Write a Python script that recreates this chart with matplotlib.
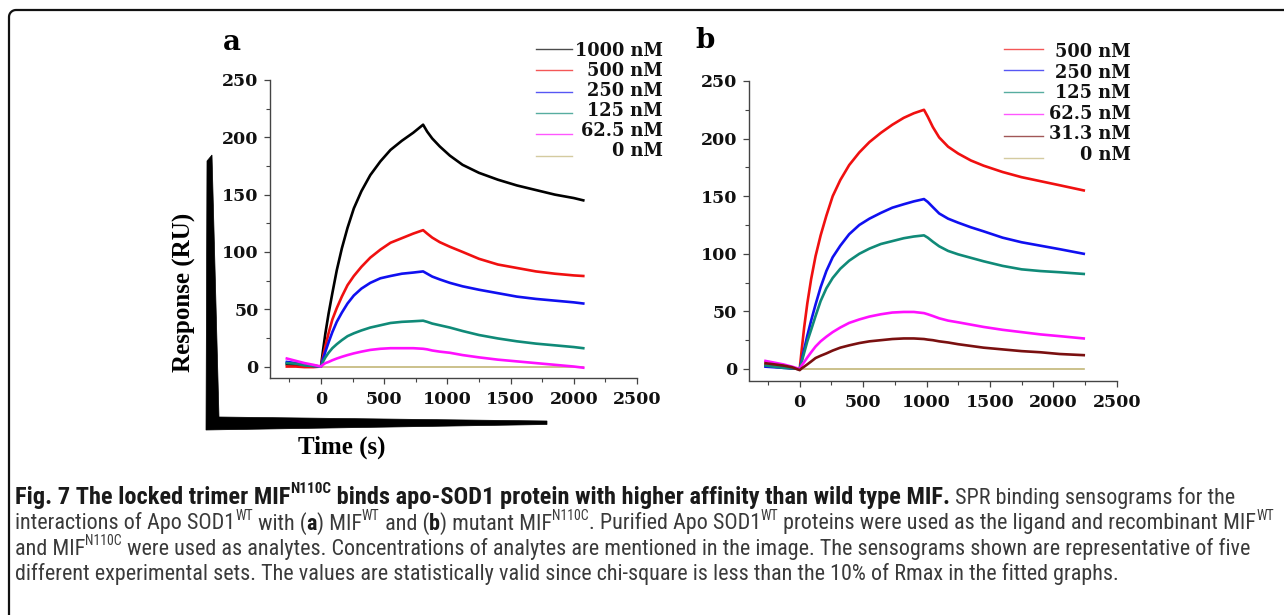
import numpy as np
import matplotlib
matplotlib.use("Agg")
import matplotlib.pyplot as plt
from matplotlib import font_manager
from matplotlib.patches import Polygon
from matplotlib.lines import Line2D
from matplotlib.ticker import MultipleLocator

# ---------------- data ----------------
a_time = [-270, -200, -130, -60, 0, 15, 35, 60, 90, 125, 165, 210, 260, 320, 390, 470, 550, 640, 730, 808,
          840, 880, 940, 1020, 1120, 1250, 1400, 1550, 1700, 1850, 2000, 2075]
a_1000 = [2, 1.5, 1, 0.5, 0, 13, 29, 46, 64, 84, 103, 121, 138, 153, 167, 179, 189, 197, 204, 211,
          205, 199, 192, 184, 176, 169, 163, 158, 154, 150, 147, 145]
a_500 = [0, 0, -0.5, -0.5, 0, 8, 18, 29, 41, 51, 61, 71, 79, 87, 95, 102, 108, 112, 116, 119,
         116, 112.5, 108.5, 104.5, 100, 94, 89, 86, 83, 81, 79.5, 79]
a_250 = [4, 3, 1.5, 0.5, 0, 6, 13, 21, 30, 39, 47, 55, 62, 68, 73, 77, 79, 81, 82, 83,
         81, 78.5, 76, 73, 70, 67, 64, 61, 59, 57.5, 56, 55]
a_125 = [3, 2.5, 1, 0.5, 0, 4, 8, 12, 16, 19.5, 23, 26.5, 29, 31.5, 34, 36, 38, 39, 39.5, 40,
         39, 37.5, 36, 34, 31, 27.5, 24.5, 22, 20, 18.5, 17, 16]
a_62 = [7, 5, 3, 1.5, 0, 1.5, 3, 4, 5.5, 7, 8.5, 10, 11.5, 13, 14.5, 15.5, 16, 16, 16, 15.5,
        15, 14, 13, 12, 10, 8, 6, 4.5, 3, 1.5, 0, -1]
a_zero_time = [0, 2075]
a_zero = [0, 0]
a_labels = ["1000 nM", "500 nM", "250 nM", "125 nM", "62.5 nM", "0 nM"]

b_time = [-270, -200, -130, -60, 0, 15, 35, 60, 90, 125, 165, 210, 260, 320, 390, 470, 550, 640, 730, 820,
          900, 980, 1010, 1050, 1100, 1170, 1250, 1350, 1450, 1600, 1750, 1900, 2050, 2240]
b_500 = [3, 2, 1.5, 0.5, 0, 16, 36, 57, 78, 98, 116, 133, 150, 164, 177, 188, 197, 205, 212, 218,
         222, 225, 219, 210, 201, 193, 187, 181, 176.5, 171, 166.5, 163, 159.5, 155]
b_250 = [2, 1.5, 1, 0.5, 0, 7, 17, 29, 42, 56, 71, 85, 97, 107, 117, 125, 130.5, 135.5, 140, 143,
         145.5, 147.5, 145, 140.5, 135, 130.5, 127, 123, 119.5, 114, 110, 107, 104, 100]
b_125 = [3, 2, 1, 0.5, 0, 6, 14, 24, 34, 46, 59, 70, 79, 87, 94, 100, 104.5, 108.5, 111, 113.5,
         115, 116, 114, 110.5, 106.5, 102.5, 99.5, 96.5, 93.5, 89.5, 86.5, 85, 84, 82.5]
b_62 = [7, 5.5, 4, 2, 0, 3, 6, 10, 14.5, 19.5, 24, 28, 32, 36, 40, 43, 45.5, 47.5, 49, 49.5,
        49.5, 48.5, 47.5, 46, 44, 42, 40.5, 38.5, 36.5, 34, 32, 30, 28.5, 26.5]
b_31 = [5, 4, 3, 1.5, -1, 0.5, 2, 4, 6.5, 9.5, 11.5, 13.5, 16, 18.5, 20.5, 22.5, 24, 25, 26, 26.5,
        26.5, 26, 25.5, 25, 24, 23, 21.5, 20, 18.5, 17, 15.5, 14.5, 13, 12]
b_zero_time = [0, 2240]
b_zero = [0, 0]
b_labels = ["500 nM", "250 nM", "125 nM", "62.5 nM", "31.3 nM", "0 nM"]

x_ticks = [0, 500, 1000, 1500, 2000, 2500]
y_ticks = [0, 50, 100, 150, 200, 250]

# ---------------- styles ----------------
C_BLACK, C_RED, C_BLUE = "#000000", "#f01010", "#1010f0"
C_TEAL, C_MAG, C_DRED, C_OLIVE = "#108a78", "#ff10ff", "#7a1010", "#c2b678"

W, H = 1284, 615
fig = plt.figure(figsize=(W / 100, H / 100), dpi=100)
fig.patch.set_facecolor("white")


def fx(x):
    return x / W


def fy(y):
    return 1 - y / H


TICK_FONT = dict(family="DejaVu Serif", weight="bold", size=12.5)
TITLE_FONT = dict(family="Liberation Serif", weight="bold", size=18)


def style_axes(ax):
    ax.set_xlim(-400, 2500)
    ax.set_ylim(-10, 250)
    for s in ("top", "right"):
        ax.spines[s].set_visible(False)
    for s in ("left", "bottom"):
        ax.spines[s].set_color("#444444")
        ax.spines[s].set_linewidth(1.0)
    ax.set_xticks(x_ticks)
    ax.set_yticks(y_ticks)
    ax.xaxis.set_minor_locator(MultipleLocator(250))
    ax.yaxis.set_minor_locator(MultipleLocator(25))
    ax.tick_params(which="major", direction="out", length=4, width=0.9, color="#444444")
    ax.tick_params(which="minor", direction="out", length=3, width=0.8, color="#444444")
    ax.tick_params(axis="x", which="major", pad=5.5)
    ax.tick_params(axis="y", which="major", pad=4.5)
    for lab in ax.get_xticklabels() + ax.get_yticklabels():
        lab.set_fontfamily(TICK_FONT["family"])
        lab.set_fontweight("bold")
        lab.set_fontsize(TICK_FONT["size"])
        lab.set_color("#111111")
    ax.set_facecolor("none")


# ---------------- panel a ----------------
ax_a = fig.add_axes([fx(270.4), fy(378), (637 - 270.4) / W, (378 - 80) / H])
style_axes(ax_a)
a_series = [(a_1000, C_BLACK), (a_500, C_RED), (a_250, C_BLUE), (a_125, C_TEAL), (a_62, C_MAG)]
ax_a.plot(a_zero_time, a_zero, color=C_OLIVE, lw=1.2, zorder=1)
for vals, col in a_series:
    ax_a.plot(a_time, vals, color=col, lw=1.9, zorder=2, solid_joinstyle="round")

# ---------------- panel b ----------------
ax_b = fig.add_axes([fx(749), fy(380.5), (1116.7 - 749) / W, (380.5 - 81) / H])
style_axes(ax_b)
b_series = [(b_500, C_RED), (b_250, C_BLUE), (b_125, C_TEAL), (b_62, C_MAG), (b_31, C_DRED)]
ax_b.plot(b_zero_time, b_zero, color=C_OLIVE, lw=1.2, zorder=1)
for vals, col in b_series:
    ax_b.plot(b_time, vals, color=col, lw=1.9, zorder=2, solid_joinstyle="round")

# ---------------- legends ----------------
a_cols = [C_BLACK, C_RED, C_BLUE, C_TEAL, C_MAG, C_OLIVE]
b_cols = [C_RED, C_BLUE, C_TEAL, C_MAG, C_DRED, C_OLIVE]


def draw_legend(labels, cols, x0, x1, y_line0, dy_line, x_text, y_text0, dy_text):
    for i, (lab, col) in enumerate(zip(labels, cols)):
        yl = y_line0 + i * dy_line
        fig.add_artist(Line2D([fx(x0), fx(x1)], [fy(yl), fy(yl)], color=col, lw=1.0, alpha=0.7,
                              transform=fig.transFigure))
        fig.text(fx(x_text), fy(y_text0 + i * dy_text), lab, ha="right", va="center",
                 family="DejaVu Serif", weight="bold", size=12.8, color="#111111")


draw_legend(a_labels, a_cols, 536, 572, 49, 21.3, 663, 50.5, 20)
draw_legend(b_labels, b_cols, 1004, 1043, 48.5, 21.9, 1131, 52, 20.6)

# ---------------- panel letters & axis titles ----------------
fig.text(fx(232), fy(43), "a", ha="center", va="center", family="DejaVu Serif", weight="bold", size=20)
fig.text(fx(705), fy(41), "b", ha="center", va="center", family="DejaVu Serif", weight="bold", size=20)
fig.text(fx(184), fy(292), "Response (RU)", rotation=90, ha="center", va="center", **TITLE_FONT)
fig.text(fx(342), fy(447), "Time (s)", ha="center", va="center", **TITLE_FONT)

# tapered "L" axis decoration
wedge = [(206, 430), (207, 161), (212, 155), (219, 417), (547, 421), (547, 424.5)]
fig.add_artist(Polygon([(fx(x), fy(y)) for x, y in wedge], closed=True, facecolor="black",
                       edgecolor="black", lw=0.5, transform=fig.transFigure))

# frame (top + left edge with rounded corner)
r = 7
ang = np.linspace(np.pi / 2, np.pi, 12)
fx_pts = [W] + list(9 + r + r * np.cos(ang)) + [9]
fy_pts = [10] + list(10 + r - r * np.sin(ang)) + [H]
fig.add_artist(Line2D([fx(v) for v in fx_pts], [fy(v) for v in fy_pts], color="#111111", lw=1.6,
                      transform=fig.transFigure, solid_capstyle="butt"))

# ---------------- caption ----------------
avail = {f.name for f in font_manager.fontManager.ttflist}
cap_family = next((f for f in ["Liberation Sans Narrow", "Roboto Condensed", "Open Sans Condensed",
                               "Noto Sans", "Liberation Sans"] if f in avail), "DejaVu Sans")

renderer = fig.canvas.get_renderer()


def text_width(s, size, bold):
    w = "bold" if bold else "normal"
    t1 = fig.text(0, 0, "|" + s + "|", size=size, family=cap_family, weight=w)
    t2 = fig.text(0, 0, "||", size=size, family=cap_family, weight=w)
    res = t1.get_window_extent(renderer).width - t2.get_window_extent(renderer).width
    t1.remove()
    t2.remove()
    return res


caption_lines = [
    [("Fig. 7 The locked trimer MIF", 1, 0), ("N110C", 1, 1),
     (" binds apo-SOD1 protein with higher affinity than wild type MIF.", 1, 0),
     (" SPR binding sensograms for the", 0, 0)],
    [("interactions of Apo SOD1", 0, 0), ("WT", 0, 1), (" with (", 0, 0), ("a", 1, 0), (") MIF", 0, 0),
     ("WT", 0, 1), (" and (", 0, 0), ("b", 1, 0), (") mutant MIF", 0, 0), ("N110C", 0, 1),
     (". Purified Apo SOD1", 0, 0), ("WT", 0, 1),
     (" proteins were used as the ligand and recombinant MIF", 0, 0), ("WT", 0, 1)],
    [("and MIF", 0, 0), ("N110C", 0, 1),
     (" were used as analytes. Concentrations of analytes are mentioned in the image. "
      "The sensograms shown are representative of five", 0, 0)],
    [("different experimental sets. The values are statistically valid since chi-square is less "
      "than the 10% of Rmax in the fitted graphs.", 0, 0)],
]
SUP = 0.62


def run_width(runs, reg, bold):
    tot = 0.0
    for s, b, sup in runs:
        size = (bold if b else reg) * (SUP if sup else 1)
        tot += text_width(s, size, b)
    return tot


base = 10.0
reg_size = base * 1225 / run_width(caption_lines[2], base, base)
reg_part = run_width([r_ for r_ in caption_lines[0] if not r_[1]], reg_size, reg_size)
bold_part = run_width([r_ for r_ in caption_lines[0] if r_[1]], base, base)
bold_size = base * (1225 - reg_part) / bold_part

baselines = [504, 529.5, 555, 580]
for runs, yb in zip(caption_lines, baselines):
    x = 15.0
    for s, b, sup in runs:
        main = bold_size if (b and runs is caption_lines[0]) else reg_size
        size = main * (SUP if sup else 1)
        y = yb - (main * 0.45 * 100 / 72 if sup else 0)
        col = "#1a1a1a" if b else "#3a3a3a"
        fig.text(fx(x), fy(y), s, size=size, family=cap_family, weight="bold" if b else "normal",
                 color=col, va="baseline", ha="left")
        x += text_width(s, size, b)

fig.savefig("out.png", dpi=100, facecolor="white")
